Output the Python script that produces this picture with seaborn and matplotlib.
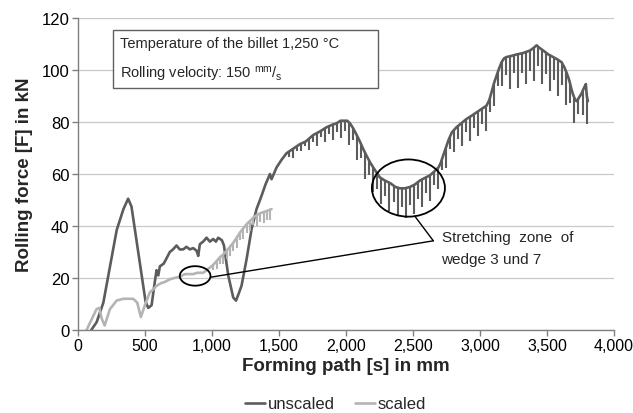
import numpy as np
import pandas as pd
import matplotlib
matplotlib.use("Agg")
import matplotlib.pyplot as plt
import matplotlib.transforms as mtransforms
from matplotlib.patches import Ellipse
import seaborn as sns

# ---- data ----
# upper trace of the unscaled curve
unscaled_x = [100, 140, 190, 240, 290, 340, 375, 400, 440, 475, 505, 525, 550, 570, 587, 600, 612,
              640, 661, 686, 710, 736, 760, 786, 810, 836, 860, 886, 898, 910, 935, 960, 985, 1010,
              1030, 1047, 1075, 1090, 1122, 1159, 1180, 1200, 1221, 1259, 1296, 1333, 1371, 1400,
              1433, 1445, 1482, 1520, 1557, 1600, 1657, 1700, 1756, 1810, 1856, 1900, 1930, 1960,
              2010, 2030, 2055, 2080, 2104, 2130, 2154, 2180, 2204, 2230, 2253, 2290, 2330, 2370,
              2403, 2440, 2477, 2515, 2552, 2590, 2627, 2660, 2690, 2705, 2725, 2745, 2765, 2790,
              2825, 2860, 2900, 2940, 2974, 3010, 3049, 3070, 3086, 3105, 3124, 3142, 3161, 3180,
              3198, 3240, 3273, 3320, 3373, 3400, 3422, 3445, 3472, 3510, 3546, 3580, 3609, 3630,
              3646, 3660, 3670, 3683, 3695, 3710, 3722, 3740, 3758, 3775, 3790, 3797, 3805]
unscaled_y = [0, 3, 10.5, 24.5, 38.5, 46.5, 50.5, 47.5, 33.5, 21, 11, 8.5, 9.5, 17, 23, 21, 24.5,
              25.5, 27.5, 30, 31, 32.5, 31, 31, 32, 31, 31.5, 30.5, 28.5, 33, 34, 35.5, 34, 35,
              34, 35.5, 34.5, 32.5, 21, 12.5, 11.3, 14, 17, 27.3, 38.8, 46.5, 51.7, 56,
              60, 58, 62.5, 65.5, 68, 69.5, 71.5, 72.5, 75, 76.5, 78, 79, 79.5, 80.5,
              80.5, 79.5, 77.5, 75, 72.5, 69.5, 67, 64.5, 62.5, 60.5, 58.7, 57.5, 56.5, 55,
              54.5, 54.5, 55, 56, 57.5, 58.5, 59.5, 61, 62.5, 64, 67, 70, 73, 76,
              78, 79.5, 81.2, 82.5, 83.7, 85, 86.3, 88.5, 91.4, 95, 97.8, 100.5, 103, 104.5,
              105, 105.5, 106, 106.5, 107.5, 108.5, 109.5, 108.5, 107.5, 106, 105, 104, 103, 101,
              99, 97, 95.3, 92.5, 90.5, 88.5, 88, 89.5, 91, 93, 94.6, 90, 88]
# downward spikes of the unscaled curve: position and drop below the upper trace
unscaled_spike_x = [1575, 1605, 1635, 1665, 1695, 1725, 1755, 1785, 1815, 1845, 1875, 1905, 1935,
                    1965, 1995, 2025, 2055, 2085, 2115, 2145, 2175, 2205, 2235, 2265, 2295, 2325,
                    2355, 2385, 2415, 2445, 2475, 2505, 2535, 2565, 2595, 2625, 2655, 2685, 2715,
                    2745, 2775, 2805, 2835, 2865, 2895, 2925, 2955, 2985, 3015, 3045, 3075, 3105,
                    3135, 3165, 3195, 3225, 3255, 3285, 3315, 3345, 3375, 3405, 3435, 3465, 3495,
                    3525, 3555, 3585, 3615, 3645, 3675, 3705, 3735, 3765, 3795]
unscaled_spike_drop = [2, 3.5, 2, 3, 1.5, 4.5, 2.5, 5, 2.5, 5.5, 3, 6, 3.5,
                       6.5, 4, 8.5, 4.5, 9, 5, 10, 5.5, 9.5, 6, 10, 6, 11,
                       6.5, 11, 7, 11.5, 7, 11, 6.5, 10.5, 6, 10, 5, 8, 4,
                       7.5, 4.5, 8.5, 5, 9, 5, 9.5, 5.5, 9.5, 6, 9.5, 5.5, 9,
                       5.5, 9.5, 7, 12.5, 7, 13, 7.5, 12.5, 8, 13, 7.5, 13, 8,
                       13.5, 8.5, 14, 8, 12.5, 7, 9.5, 6, 9, 12]

scaled_x = [65, 102, 139, 160, 177, 200, 239, 289, 338, 380, 413, 443, 470, 500, 537, 560, 587,
            620, 650, 686, 720, 761, 800, 830, 860, 890, 935, 960, 985, 1009, 1035, 1060, 1084,
            1110, 1135, 1159, 1185, 1210, 1240, 1265, 1295, 1315, 1345, 1365, 1395, 1420, 1445]
scaled_y = [0, 4, 8, 8.5, 4.5, 1.7, 8, 11.3, 12, 12, 12, 10.5, 5, 9.5, 14.5, 15.5, 17,
            18, 18.5, 19.5, 20, 20.5, 21.5, 21.5, 21.5, 22, 22, 23, 24, 25, 26.5, 28, 29,
            30.5, 32, 33.5, 35.5, 37.5, 39.5, 41, 42.5, 43.5, 44.5, 45, 45.5, 46, 46.5]
scaled_spike_x = [1010, 1035, 1060, 1085, 1110, 1135, 1160, 1185, 1210, 1235, 1260, 1285, 1310,
                  1335, 1360, 1385, 1410, 1435]
scaled_spike_drop = [2, 3, 2.5, 3.5, 3, 3.5, 3, 4, 3, 4, 3.5, 4, 3, 4, 3.5, 4, 3.5, 4]

x_ticks = [0, 500, 1000, 1500, 2000, 2500, 3000, 3500, 4000]
y_ticks = [0, 20, 40, 60, 80, 100, 120]
series_names = ["unscaled", "scaled"]
box_lines = ["Temperature of the billet 1,250 °C",
             "Rolling velocity: 150 $^{\\mathregular{mm}}$/$_{\\mathregular{s}}$"]
annot_lines = ["Stretching  zone  of", "wedge 3 und 7"]

# ---- styling ----
sns.set_theme(style="white")
plt.rcParams["font.family"] = ["Liberation Sans", "DejaVu Sans"]
plt.rcParams["mathtext.default"] = "regular"

dark = "#5c5c5c"
light = "#b4b4b4"

df = pd.concat([
    pd.DataFrame({"x": unscaled_x, "y": unscaled_y, "series": series_names[0]}),
    pd.DataFrame({"x": scaled_x, "y": scaled_y, "series": series_names[1]}),
], ignore_index=True)

fig = plt.figure(figsize=(6.33, 4.14), dpi=100)
ax = fig.add_axes([0.123, 0.2005, 0.847, 0.7535])

spikes = {series_names[0]: (unscaled_spike_x, unscaled_spike_drop),
          series_names[1]: (scaled_spike_x, scaled_spike_drop)}
for name, col in zip(series_names, [dark, light]):
    sub = df[df["series"] == name]
    sns.lineplot(data=sub, x="x", y="y", ax=ax, color=col, lw=1.9, sort=False,
                 estimator=None, label=name)
    sx, sd = spikes[name]
    top = np.interp(sx, sub["x"], sub["y"])
    ax.vlines(sx, top - np.asarray(sd), top, colors=col, lw=1.5)

ax.set_xlim(0, 4000)
ax.set_ylim(0, 120)
ax.set_xticks(x_ticks)
ax.set_yticks(y_ticks)
ax.set_xticklabels([f"{v:,}" for v in x_ticks], fontsize=11.5)
ax.set_yticklabels([str(v) for v in y_ticks], fontsize=12)
shift = mtransforms.ScaledTranslation(-4 / 100, 0, fig.dpi_scale_trans)
for lab in ax.get_xticklabels():
    lab.set_transform(lab.get_transform() + shift)
ax.yaxis.grid(True, color="#c8c8c8", lw=0.9)
ax.xaxis.grid(False)
ax.set_axisbelow(True)
for s in ["top", "right"]:
    ax.spines[s].set_visible(False)
for s in ["left", "bottom"]:
    ax.spines[s].set_color("#808080")
    ax.spines[s].set_linewidth(1.0)
ax.tick_params(axis="both", which="major", length=4, width=1, color="#808080",
               direction="out", bottom=True, left=True, pad=2, labelcolor="black")

ax.set_xlabel("Forming path [s] in mm", fontsize=13.5, fontweight="bold", labelpad=3)
ax.set_ylabel("Rolling force [F] in kN", fontsize=13.5, fontweight="bold", labelpad=6)

# text box
ax.add_patch(plt.Rectangle((263, 93), 1975, 22.4, fill=True, facecolor="white",
                           edgecolor="#606060", lw=1.0, zorder=5))
ax.text(313, 110.3, box_lines[0], fontsize=10.5, va="center", ha="left", zorder=6)
ax.text(313, 98.5, box_lines[1], fontsize=10.5, va="center", ha="left", zorder=6)

# ellipses and annotation
ax.add_patch(Ellipse((2466, 54.6), 545, 22, fill=False, edgecolor="black", lw=1.3, zorder=7))
ax.add_patch(Ellipse((875, 20.8), 229, 7.5, fill=False, edgecolor="black", lw=1.3, zorder=7))
ax.plot([2515, 2652], [43.7, 34.3], color="black", lw=1.0, zorder=7)
ax.plot([2652, 990], [34.3, 20.3], color="black", lw=1.0, zorder=7)
ax.text(2713, 35.6, annot_lines[0], fontsize=11, va="center", ha="left")
ax.text(2713, 27.3, annot_lines[1], fontsize=11, va="center", ha="left")

leg = ax.legend(loc="center", bbox_to_anchor=(0.53, 0.022), bbox_transform=fig.transFigure,
                ncol=2, frameon=False, fontsize=12, handlelength=1.2, handletextpad=0.15,
                columnspacing=1.2)

fig.savefig("out.png", dpi=100)
